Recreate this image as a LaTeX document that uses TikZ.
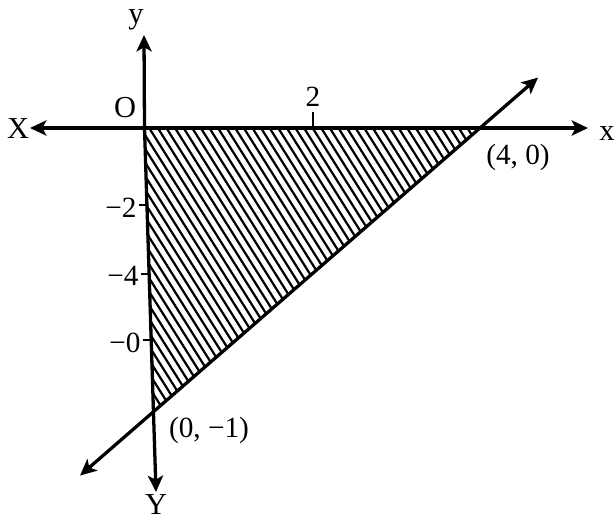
\documentclass[tikz,border=0pt]{standalone}
\usepackage{fontspec}
\setmainfont{Liberation Serif}
\usetikzlibrary{arrows.meta,calc}
\begin{document}
\begin{tikzpicture}[x=0.03cm,y=-0.03cm,
  >={Stealth[length=14pt,width=13pt,inset=3.5pt]},
  axisline/.style={line width=2.8pt},
  hatchline/.style={line width=1.9pt},
  ticksty/.style={line width=2.2pt},
  lbl/.style={inner sep=0pt,font=\fontsize{26}{30}\selectfont},
  smalllbl/.style={inner sep=0pt,font=\fontsize{25}{29}\selectfont}]
\useasboundingbox (0,0) rectangle (615,520);
% key points
\coordinate (O) at (144.5,128);
\coordinate (A) at (480,128);
\coordinate (B) at (152,413);
\coordinate (xl) at (30,128);
\coordinate (xr) at (588,128);
\coordinate (yt) at (144,35);
\coordinate (yb) at (156,492);
\coordinate (L1) at ($(B)!-0.2195!(A)$);
\coordinate (L2) at ($(B)!1.177!(A)$);
% hatching
\begin{scope}
  \clip (O) -- (A) -- (B) -- cycle;
  \foreach \k in {0,...,62} {
    \draw[hatchline] ({-40+\k*8.6-20*0.63},108) -- ({-40+\k*8.6+320*0.63},448);
  }
\end{scope}
% boundary line
\draw[axisline,->] (A) -- (L2);
\draw[axisline,->] (A) -- (L1);
% axes
\draw[axisline,<->] (xl) -- (xr);
\draw[axisline,->] (O) -- (yt);
\draw[axisline,->] (O) -- (yb);
% ticks
\coordinate (t2) at (313,128);
\coordinate (t2e) at (313,112);
\draw[ticksty] (t2) -- (t2e);
\coordinate (ta) at (146.7,205);
\coordinate (tae) at (139,205);
\coordinate (tb) at (149,274);
\coordinate (tbe) at (141,274);
\coordinate (tc) at (150.5,340);
\coordinate (tce) at (143,340);
\draw[ticksty] (ta) -- (tae);
\draw[ticksty] (tb) -- (tbe);
\draw[ticksty] (tc) -- (tce);
% labels
\node[lbl] (lX) at (18,129) {X};
\node[lbl] (lx) at (607,134) {x};
\node[lbl] (ly) at (136,20) {y};
\node[lbl] (lY) at (156,505) {Y};
\node[lbl] (lO) at (125,108) {O};
\node[smalllbl] (l2) at (313,97) {2};
\node[smalllbl] (lm2) at (121,208) {−2};
\node[smalllbl] (lm4) at (123,276) {−4};
\node[smalllbl] (lm0) at (125,343) {−0};
\node[smalllbl] (lA) at (518,157) {(4, 0)};
\node[smalllbl] (lB) at (209,430) {(0, −1)};
\end{tikzpicture}
\end{document}
